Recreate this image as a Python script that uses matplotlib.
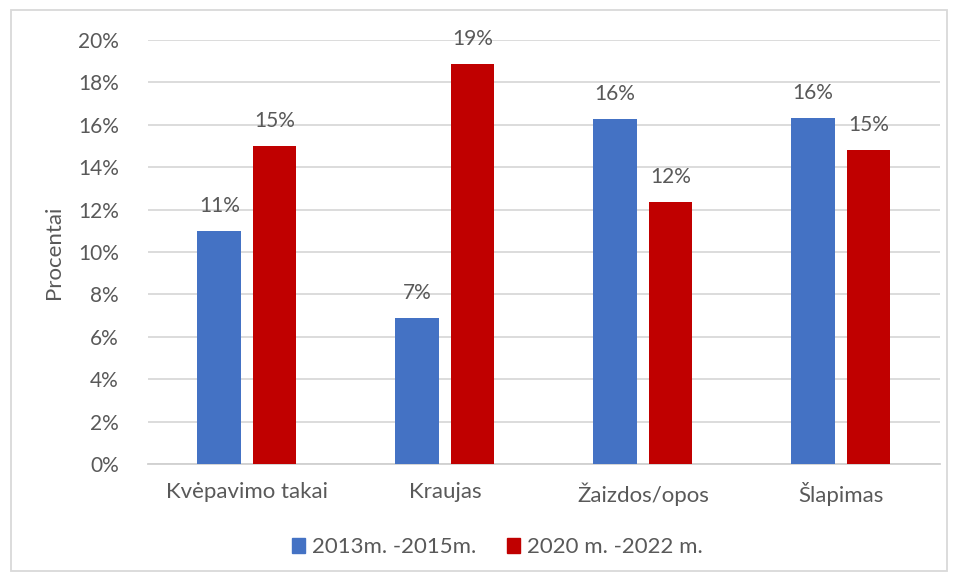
import matplotlib.pyplot as plt
import matplotlib.patches as mpatches
import numpy as np

plt.rcParams['font.family'] = ['Lato', 'DejaVu Sans']

categories = ['Kvėpavimo takai', 'Kraujas', 'Žaizdos/opos', 'Šlapimas']
series_names = ['2013m. -2015m.', '2020 m. -2022 m.']
vals_2013 = [11.0, 6.9, 16.27, 16.32]
vals_2020 = [15.0, 18.87, 12.36, 14.81]
yticks = [0, 2, 4, 6, 8, 10, 12, 14, 16, 18, 20]

BLUE = '#4472c4'
RED = '#c00000'
TXT = '#595959'

fig = plt.figure(figsize=(9.58, 5.81), dpi=100)
ax = fig.add_axes([0.1545, 0.2014, 0.8265, 0.7296])

x = np.arange(len(categories))
w = 0.22
b1 = ax.bar(x - 0.14, vals_2013, w, color=BLUE, label=series_names[0], zorder=3)
b2 = ax.bar(x + 0.14, vals_2020, w, color=RED, label=series_names[1], zorder=3)

for bars, vals in ((b1, vals_2013), (b2, vals_2020)):
    for r, v in zip(bars, vals):
        ax.text(r.get_x() + r.get_width() / 2, v + 0.7, '%d%%' % round(v),
                ha='center', va='bottom', fontsize=15, color=TXT)

ax.set_xlim(-0.5, len(categories) - 0.5)
ax.set_ylim(0, 20)
ax.set_yticks(yticks)
ax.set_yticklabels(['%d%%' % t for t in yticks])
ax.set_xticks(x)
ax.set_xticklabels(categories)
ax.tick_params(axis='both', length=0, colors=TXT)
ax.tick_params(axis='y', pad=21, labelsize=15)
ax.tick_params(axis='x', pad=13, labelsize=16)

ax.yaxis.grid(True, color='#d9d9d9', linewidth=1.3, zorder=0)
ax.set_axisbelow(True)
for s in ['top', 'right', 'left']:
    ax.spines[s].set_visible(False)
ax.spines['bottom'].set_color('#d0d0d0')
ax.spines['bottom'].set_linewidth(1.3)

ax.set_ylabel('Procentai', fontsize=16, color=TXT, labelpad=10)

handles = [mpatches.Patch(color=BLUE), mpatches.Patch(color=RED)]
fig.legend(handles, series_names, loc='center', bbox_to_anchor=(0.519, 0.058),
           ncol=2, frameon=False, fontsize=16, labelcolor=TXT,
           handlelength=0.6, handleheight=0.6, handletextpad=0.3, columnspacing=1.4)

# outer frame of the chart area
fig.patches.append(mpatches.Rectangle((0.011, 0.018), 0.978, 0.965, transform=fig.transFigure,
                                      fill=False, edgecolor='#d9d9d9', linewidth=1.3))

fig.savefig('out.png', dpi=100)
